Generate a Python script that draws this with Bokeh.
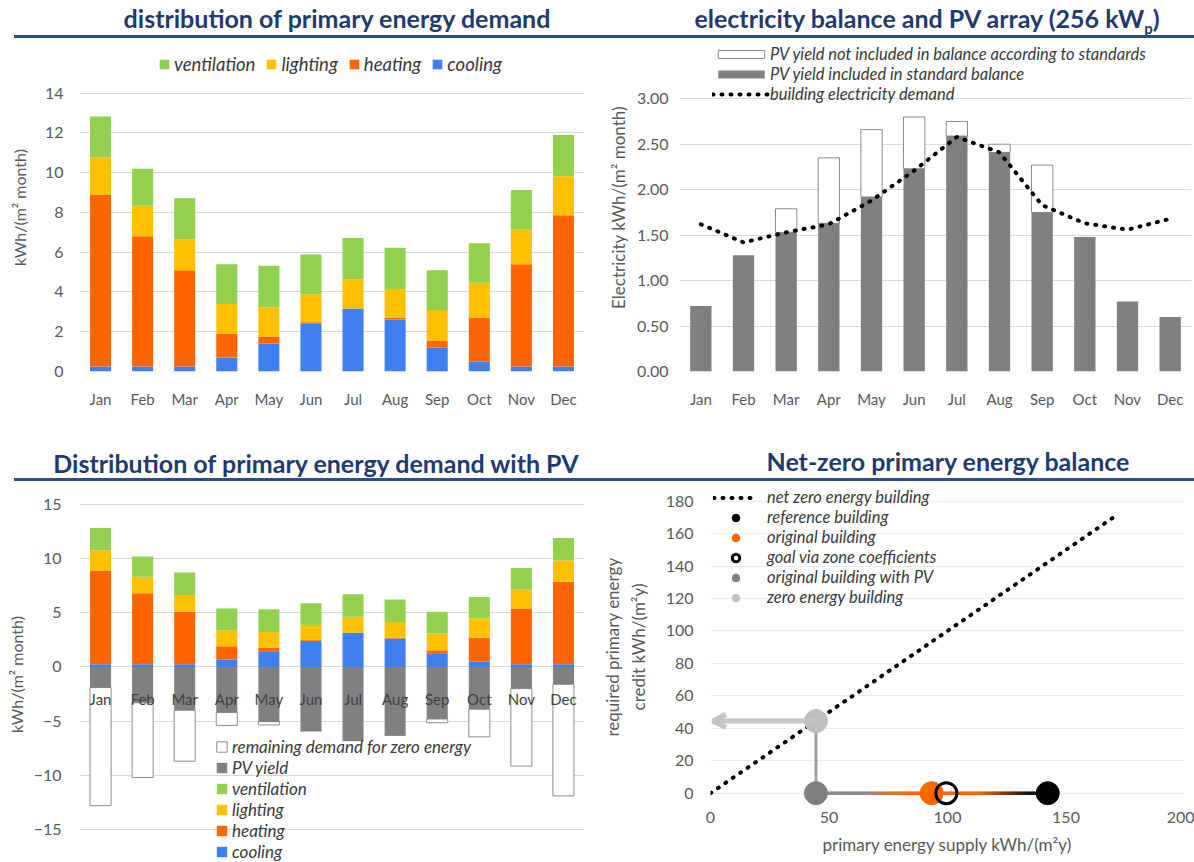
import numpy as np
from bokeh.plotting import figure
from bokeh.models import (ColumnDataSource, Legend, LegendItem, FixedTicker,
                          NumeralTickFormatter, Div, Arrow, OpenHead, Range1d, FactorRange)
from bokeh.layouts import column, row
from bokeh.embed import file_html
from bokeh.resources import INLINE
from bokeh.core.properties import value

# ---------------- data ----------------
months = ["Jan", "Feb", "Mar", "Apr", "May", "Jun", "Jul", "Aug", "Sep", "Oct", "Nov", "Dec"]

# primary energy demand, kWh/(m² month)
cooling = [0.25, 0.25, 0.25, 0.70, 1.39, 2.40, 3.17, 2.62, 1.21, 0.49, 0.25, 0.25]
heating = [8.66, 6.55, 4.84, 1.21, 0.37, 0.08, 0.00, 0.07, 0.33, 2.20, 5.14, 7.61]
lighting = [1.85, 1.54, 1.56, 1.48, 1.46, 1.40, 1.46, 1.46, 1.55, 1.78, 1.74, 1.96]
ventilation = [2.07, 1.86, 2.06, 2.00, 2.10, 2.00, 2.08, 2.08, 2.00, 1.98, 2.00, 2.08]

# electricity balance, kWh/(m² month)
pv_included = [0.72, 1.28, 1.53, 1.63, 1.92, 2.23, 2.59, 2.41, 1.75, 1.48, 0.77, 0.60]
pv_total = [0.72, 1.28, 1.79, 2.35, 2.66, 2.80, 2.75, 2.50, 2.27, 1.48, 0.77, 0.60]
electricity_demand = [1.62, 1.42, 1.53, 1.62, 1.88, 2.21, 2.58, 2.41, 1.83, 1.63, 1.56, 1.68]

# primary energy with PV, kWh/(m² month)
pv_yield_primary = [-1.9, -3.3, -4.0, -4.2, -5.05, -5.9, -6.8, -6.3, -4.8, -3.9, -2.0, -1.6]
remaining_demand = [10.9, 6.9, 4.7, 1.2, 0.3, 0.0, 0.0, 0.0, 0.35, 2.55, 7.15, 10.3]

# net-zero balance, kWh/(m²y)
scenario_names = ["reference building", "original building", "goal via zone coefficients",
                  "original building with PV", "zero energy building"]
scenario_supply = [142.3, 93.3, 99.5, 44.5, 44.5]
scenario_credit = [0.0, 0.0, 0.0, 0.0, 44.5]
net_zero_x = [0, 170]
net_zero_y = [0, 170]

# ---------------- style ----------------
FONT = "Lato"
TICK = "#595959"
LEG = "#3a3a3a"
GRID = "#D9D9D9"
C_VENT = "#92D050"
C_LIGHT = "#FFC000"
C_HEAT = "#FF6600"
C_COOL = "#3F7FF2"
C_PV = "#808080"
TITLE_COLOR = "#1F3B6E"
LINE_COLOR = "#2E4D86"

LW, RW = 597, 597


def style(p, tick_size="16px", label_size="16px"):
    for ax in p.axis:
        ax.axis_line_color = None
        ax.major_tick_line_color = None
        ax.minor_tick_line_color = None
        ax.major_tick_out = 0
        ax.major_tick_in = 0
        ax.minor_tick_out = 0
        ax.minor_tick_in = 0
        ax.major_label_text_font = FONT
        ax.major_label_text_font_size = tick_size
        ax.major_label_text_color = TICK
        ax.axis_label_text_font = FONT
        ax.axis_label_text_font_size = label_size
        ax.axis_label_text_font_style = "normal"
        ax.axis_label_text_color = TICK
    p.outline_line_color = None
    p.xgrid.visible = False
    p.ygrid.grid_line_color = GRID
    p.ygrid.grid_line_width = 1
    p.background_fill_color = "white"
    p.border_fill_color = "white"


def make_legend(items, loc, **kw):
    return Legend(items=items, location=loc, padding=0, margin=0,
                  background_fill_alpha=0, border_line_alpha=0,
                  label_text_font=FONT, label_text_font_style="italic",
                  label_text_color=LEG, **kw)


def title_div(html_text, width, height, text_top, pad_left, line_top, line_left):
    html = (f'<div style="position:relative;width:{width}px;height:{height}px;overflow:hidden;">'
            f'<div style="position:absolute;left:{pad_left}px;right:0;top:{text_top}px;text-align:center;'
            f'font-family:Lato;font-weight:bold;font-size:25px;line-height:30px;color:{TITLE_COLOR};'
            f'white-space:nowrap;">{html_text}</div>'
            f'<div style="position:absolute;left:{line_left}px;right:0;top:{line_top}px;height:3px;'
            f'background:{LINE_COLOR};"></div></div>')
    return Div(text=html, width=width, height=height, margin=0)


# ---------------- panel 1 ----------------
c = np.array(cooling); h = np.array(heating); l = np.array(lighting); v = np.array(ventilation)
s1 = ColumnDataSource(dict(month=months,
                           c0=np.zeros(12), c1=c,
                           h0=c, h1=c + h,
                           l0=c + h, l1=c + h + l,
                           v0=c + h + l, v1=c + h + l + v))

p1 = figure(width=LW, height=388, x_range=FactorRange(*months, range_padding=0),
            y_range=Range1d(0, 16.50), output_backend="svg", toolbar_location=None,
            min_border_left=79, min_border_right=13, min_border_top=1, min_border_bottom=59)
r_c = p1.vbar(x="month", bottom="c0", top="c1", width=0.5, source=s1, fill_color=C_COOL, line_color=None)
r_h = p1.vbar(x="month", bottom="h0", top="h1", width=0.5, source=s1, fill_color=C_HEAT, line_color=None)
r_l = p1.vbar(x="month", bottom="l0", top="l1", width=0.5, source=s1, fill_color=C_LIGHT, line_color=None)
r_v = p1.vbar(x="month", bottom="v0", top="v1", width=0.5, source=s1, fill_color=C_VENT, line_color=None)
style(p1)
p1.xaxis.major_label_text_font_size = "15px"
p1.yaxis.ticker = FixedTicker(ticks=[0, 2, 4, 6, 8, 10, 12, 14])
p1.yaxis.axis_label = "kWh/(m² month)"
p1.yaxis.major_label_standoff = 16
p1.yaxis.axis_label_standoff = 13
p1.xaxis.major_label_standoff = 18
lg1 = make_legend([LegendItem(label="ventilation", renderers=[r_v]),
                   LegendItem(label="lighting", renderers=[r_l]),
                   LegendItem(label="heating", renderers=[r_h]),
                   LegendItem(label="cooling", renderers=[r_c])],
                  (79, 296), orientation="horizontal", glyph_width=12, glyph_height=12,
                  label_standoff=4, spacing=10, label_height=20, label_text_font_size="18.5px")
p1.add_layout(lg1, "center")

# ---------------- panel 2 ----------------
inc = np.array(pv_included); tot = np.array(pv_total)
s2 = ColumnDataSource(dict(month=months, inc=inc, tot=tot, dem=electricity_demand))
mask = tot > inc
s2x = ColumnDataSource(dict(month=[m for m, k in zip(months, mask) if k],
                            inc=inc[mask], tot=tot[mask]))

p2 = figure(width=RW, height=388, x_range=FactorRange(*months, range_padding=0),
            y_range=Range1d(0, 3.608), output_backend="svg", toolbar_location=None,
            min_border_left=82, min_border_right=3, min_border_top=1, min_border_bottom=59)
r_ex = p2.vbar(x="month", bottom="inc", top="tot", width=0.5, source=s2x,
               fill_color="white", line_color="#8C8C8C", line_width=1)
r_in = p2.vbar(x="month", bottom=0, top="inc", width=0.5, source=s2,
               fill_color=C_PV, line_color=None)
r_dem = p2.line(x="month", y="dem", source=s2, line_color="black", line_width=4,
                line_dash="1 8", line_cap="round")
style(p2, label_size="17px")
p2.xaxis.major_label_text_font_size = "15px"
p2.yaxis.ticker = FixedTicker(ticks=[0, 0.5, 1, 1.5, 2, 2.5, 3])
p2.yaxis.formatter = NumeralTickFormatter(format="0.00")
p2.yaxis.axis_label = "Electricity kWh/(m² month)"
p2.yaxis.major_label_standoff = 11
p2.yaxis.axis_label_standoff = 5
p2.xaxis.major_label_standoff = 18
lg2 = make_legend([LegendItem(label="PV yield not included in balance according to standards", renderers=[r_ex]),
                   LegendItem(label="PV yield included in standard balance", renderers=[r_in]),
                   LegendItem(label="building electricity demand", renderers=[r_dem])],
                  (33, 267), orientation="vertical", glyph_width=58, glyph_height=10,
                  label_standoff=0, spacing=0, label_height=20, label_text_font_size="16.5px")
p2.add_layout(lg2, "center")

# ---------------- panel 3 ----------------
pv = np.array(pv_yield_primary); rem = np.array(remaining_demand)
s3 = ColumnDataSource(dict(month=months,
                           c0=np.zeros(12), c1=c,
                           h0=c, h1=c + h,
                           l0=c + h, l1=c + h + l,
                           v0=c + h + l, v1=c + h + l + v,
                           pv0=np.zeros(12), pv1=pv,
                           rm0=pv, rm1=pv - rem,
                           label_y=np.zeros(12)))
p3 = figure(width=LW, height=378, x_range=FactorRange(*months, range_padding=0),
            y_range=Range1d(-18.05, 16.66), output_backend="svg", toolbar_location=None,
            x_axis_location=None,
            min_border_left=79, min_border_right=13, min_border_top=2, min_border_bottom=0)
r3_rm = p3.vbar(x="month", bottom="rm0", top="rm1", width=0.5, source=s3,
                fill_color="white", line_color="#8C8C8C", line_width=1)
r3_pv = p3.vbar(x="month", bottom="pv0", top="pv1", width=0.5, source=s3, fill_color=C_PV, line_color=None)
r3_c = p3.vbar(x="month", bottom="c0", top="c1", width=0.5, source=s3, fill_color=C_COOL, line_color=None)
r3_h = p3.vbar(x="month", bottom="h0", top="h1", width=0.5, source=s3, fill_color=C_HEAT, line_color=None)
r3_l = p3.vbar(x="month", bottom="l0", top="l1", width=0.5, source=s3, fill_color=C_LIGHT, line_color=None)
r3_v = p3.vbar(x="month", bottom="v0", top="v1", width=0.5, source=s3, fill_color=C_VENT, line_color=None)
p3.text(x="month", y="label_y", text="month", source=s3, text_align="center",
        text_baseline="middle", y_offset=32, text_font=value(FONT), text_font_size="15px",
        text_color="#404040")
style(p3)
p3.yaxis.ticker = FixedTicker(ticks=[-15, -10, -5, 0, 5, 10, 15])
p3.yaxis.axis_label = "kWh/(m² month)"
p3.yaxis.major_label_standoff = 18
p3.yaxis.axis_label_standoff = 5
lg3 = make_legend([LegendItem(label="remaining demand for zero energy", renderers=[r3_rm]),
                   LegendItem(label="PV yield", renderers=[r3_pv]),
                   LegendItem(label="ventilation", renderers=[r3_v]),
                   LegendItem(label="lighting", renderers=[r3_l]),
                   LegendItem(label="heating", renderers=[r3_h]),
                   LegendItem(label="cooling", renderers=[r3_c])],
                  (136, 0), orientation="vertical", glyph_width=13, glyph_height=13,
                  label_standoff=4, spacing=0, label_height=20, label_text_font_size="17px")
p3.add_layout(lg3, "center")

# ---------------- panel 4 ----------------
p4 = figure(width=RW, height=378, x_range=Range1d(0, 200), y_range=Range1d(-10.05, 190.3),
            output_backend="svg", toolbar_location=None,
            min_border_left=113, min_border_right=10, min_border_top=0, min_border_bottom=53)
style(p4, label_size="17px")
p4.ygrid.grid_line_color = "#EBEBEB"
p4.xaxis.ticker = FixedTicker(ticks=[0, 50, 100, 150, 200])
p4.yaxis.ticker = FixedTicker(ticks=list(range(0, 181, 20)))
p4.xaxis.axis_label = "primary energy supply kWh/(m²y)"
p4.yaxis.axis_label = "required primary energy\ncredit kWh/(m²y)"
p4.xaxis.major_label_standoff = 2
p4.xaxis.axis_label_standoff = 8
p4.yaxis.major_label_standoff = 17
p4.yaxis.axis_label_standoff = 14

# gradient connection line on the supply axis (grey -> orange -> black)
x_pv, x_ref = scenario_supply[3], scenario_supply[0]
stops_x = [x_pv, 65, 82, 113, 134, x_ref]
stops_c = [(140, 140, 140), (140, 140, 140), (255, 102, 0), (255, 102, 0), (20, 20, 20), (20, 20, 20)]
nseg = 120
xs = np.linspace(x_pv, x_ref, nseg + 1)
mids = 0.5 * (xs[:-1] + xs[1:])
cols = []
for m in mids:
    rgb = [int(round(np.interp(m, stops_x, [sc[k] for sc in stops_c]))) for k in range(3)]
    cols.append("#%02x%02x%02x" % tuple(rgb))
p4.segment(x0=xs[:-1], y0=[scenario_credit[3]] * nseg, x1=xs[1:] + 0.3, y1=[scenario_credit[3]] * nseg,
           line_color=cols, line_width=3.5)
# vertical connection from PV building up to zero energy building
p4.segment(x0=[scenario_supply[3]], y0=[scenario_credit[3]], x1=[scenario_supply[4]], y1=[scenario_credit[4]],
           line_color="#A0A0A0", line_width=3)
p4.add_layout(Arrow(x_start=scenario_supply[4], y_start=scenario_credit[4], x_end=1, y_end=scenario_credit[4],
                    line_color="#C4C4C4", line_width=5,
                    end=OpenHead(size=13, line_color="#C4C4C4", line_width=5)))
r_nz = p4.line(net_zero_x, net_zero_y, line_color="black", line_width=4, line_dash="1 8", line_cap="round")

pt_style = [
    dict(fill_color="black", line_color="black", line_width=1),
    dict(fill_color=C_HEAT, line_color=C_HEAT, line_width=1),
    dict(fill_color=None, line_color="black", line_width=3),
    dict(fill_color="#808080", line_color="#808080", line_width=1),
    dict(fill_color="#BFBFBF", line_color="#BFBFBF", line_width=1),
]
pt_r = []
for i, st in enumerate(pt_style):
    r = p4.scatter(x=[scenario_supply[i]], y=[scenario_credit[i]], size=23 if i != 2 else 21,
                   marker="circle", **st)
    pt_r.append(r)

lg4 = make_legend([LegendItem(label="net zero energy building", renderers=[r_nz])] +
                  [LegendItem(label=scenario_names[i], renderers=[pt_r[i]]) for i in range(5)],
                  (3, 202), orientation="vertical", glyph_width=45, glyph_height=19,
                  label_standoff=9, spacing=0, label_height=19, label_text_font_size="16.5px")
p4.add_layout(lg4, "center")

# ---------------- titles ----------------
t1 = title_div("distribution of primary energy demand", LW, 42, 3, 77, 35, 14)
t2 = title_div("electricity balance and PV array (256 kW<sub style='font-size:15px'>p</sub>)", RW, 42, 3, 63, 35, 0)
t3 = title_div("Distribution of primary energy demand with PV", LW, 54, 18, 35, 48, 14)
t4 = title_div("Net-zero primary energy balance", RW, 54, 16, 105, 48, 0)

layout = column(row(t1, t2, spacing=0),
                row(column(p1, spacing=0), column(p2, spacing=0), spacing=0),
                row(t3, t4, spacing=0),
                row(column(p3, spacing=0), column(p4, spacing=0), spacing=0),
                spacing=0)

open("out.html", "w").write(file_html(layout, INLINE))
